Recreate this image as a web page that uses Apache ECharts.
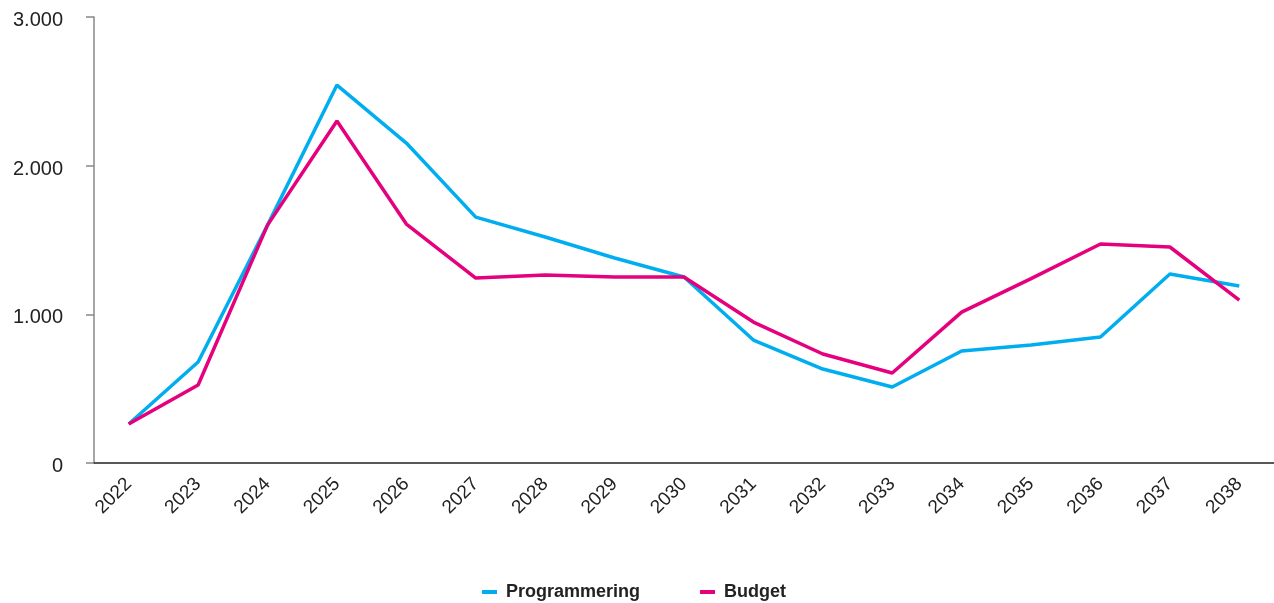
<!DOCTYPE html>
<html><head><meta charset="utf-8">
<script src="https://cdn.jsdelivr.net/npm/echarts@6/dist/echarts.min.js"></script>
<style>html,body{margin:0;padding:0;background:#fff}#c{width:1274px;height:603px}</style>
</head><body><div id="c"></div>
<script>
const years = ['2022','2023','2024','2025','2026','2027','2028','2029','2030','2031','2032','2033','2034','2035','2036','2037','2038'];
const programmering = [262, 679, 1600, 2542, 2152, 1654, 1520, 1379, 1251, 827, 632, 511, 753, 793, 847, 1271, 1190];
const budget = [262, 525, 1600, 2300, 1607, 1244, 1264, 1251, 1251, 948, 733, 605, 1015, 1240, 1473, 1453, 1096];
const yTicks = [0, 1000, 2000, 3000];

const chart = echarts.init(document.getElementById('c'));
const fmt = v => String(v).replace(/\B(?=(\d{3})+(?!\d))/g, '.');
chart.setOption({
  animation: false,
  grid: { left: 94, right: 0, top: 17, bottom: 140 },
  legend: {
    top: 578, left: 477, itemGap: 60, itemWidth: 15, itemHeight: 4,
    icon: 'rect',
    textStyle: { fontFamily: 'Liberation Sans', fontWeight: 'bold', fontSize: 18, color: '#222', padding: [0, 0, 0, 4] },
    data: ['Programmering', 'Budget']
  },
  xAxis: {
    type: 'category', data: years, boundaryGap: true,
    axisLine: { lineStyle: { color: '#222', width: 1.5 } },
    axisTick: { show: false },
    axisLabel: { rotate: 45, fontFamily: 'Liberation Sans', fontSize: 19, color: '#222', margin: 18 }
  },
  yAxis: {
    type: 'value', min: 0, max: 3000, interval: 1000,
    axisLine: { show: true, lineStyle: { color: '#888', width: 1.5 } },
    axisTick: { show: true, length: 8, lineStyle: { color: '#888', width: 1.5 } },
    splitLine: { show: false },
    axisLabel: {
      fontFamily: 'Liberation Sans', fontSize: 20, color: '#222', margin: 31,
      formatter: v => yTicks.includes(v) ? '{a|' + fmt(v) + '}' : '',
      rich: { a: { fontFamily: 'Liberation Sans', fontSize: 20, color: '#222', padding: [7, 0, 0, 0] } }
    }
  },
  series: [
    { name: 'Programmering', type: 'line', data: programmering, symbol: 'none', lineStyle: { color: '#00aeef', width: 3.5 }, itemStyle: { color: '#00aeef' } },
    { name: 'Budget', type: 'line', data: budget, symbol: 'none', lineStyle: { color: '#e5007d', width: 3.5 }, itemStyle: { color: '#e5007d' } }
  ]
});
</script></body></html>
